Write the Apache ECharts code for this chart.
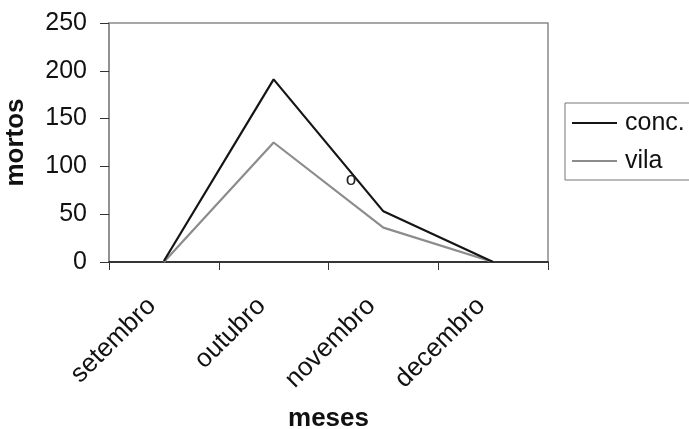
<!DOCTYPE html>
<html>
<head>
<meta charset="utf-8">
<script src="https://cdn.jsdelivr.net/npm/echarts@6/dist/echarts.min.js"></script>
<style>
  html, body { margin: 0; padding: 0; background: #fff; }
  #chart { width: 689px; height: 429px; }
</style>
</head>
<body>
<div id="chart"></div>
<script>
// Deaths per month, two groups
const months = ['setembro', 'outubro', 'novembro', 'decembro'];
const concDeaths = [1, 191, 53, 0];
const vilaDeaths = [0, 125, 36, 0];
const yTicks = { min: 0, max: 250, interval: 50 };

const FONT = '"Liberation Sans", Arial, sans-serif';
const chart = echarts.init(document.getElementById('chart'));

chart.setOption({
  animation: false,
  backgroundColor: '#fff',
  grid: {
    left: 109, right: 141, top: 23, bottom: 167,
    outerBoundsMode: 'none',
    containLabel: false,
    show: true, borderColor: '#8a8a8a', borderWidth: 1.5, backgroundColor: '#fff'
  },
  legend: {
    orient: 'vertical',
    left: 565, top: 103,
    padding: [1, 30, 0, 7],
    itemGap: 0,
    itemWidth: 45, itemHeight: 2,
    icon: 'rect',
    borderColor: '#777', borderWidth: 1,
    backgroundColor: '#fff',
    textStyle: {
      fontFamily: FONT, fontSize: 25, color: '#111', lineHeight: 38,
      padding: [0, 0, 0, 3]
    },
    data: ['conc.', 'vila']
  },
  xAxis: {
    type: 'category',
    data: months,
    boundaryGap: true,
    name: 'meses',
    nameLocation: 'middle',
    nameGap: 144,
    nameTextStyle: { fontFamily: FONT, fontSize: 26, fontWeight: 'bold', color: '#111' },
    axisLine: { lineStyle: { color: '#111', width: 1.5 } },
    axisTick: { show: true, length: 8, lineStyle: { color: '#333', width: 1 } },
    axisLabel: {
      rotate: 45, margin: 28, padding: [0, 17, 0, 0],
      fontFamily: FONT, fontSize: 26, color: '#111'
    },
    splitLine: { show: false }
  },
  yAxis: {
    type: 'value',
    min: yTicks.min, max: yTicks.max, interval: yTicks.interval,
    name: 'mortos',
    nameLocation: 'middle',
    nameRotate: 90,
    nameGap: 80,
    nameTextStyle: { fontFamily: FONT, fontSize: 26, fontWeight: 'bold', color: '#111' },
    axisLine: { show: true, lineStyle: { color: '#8a8a8a', width: 1.5 } },
    axisTick: { show: true, length: 9, lineStyle: { color: '#333', width: 1 } },
    axisLabel: { margin: 22, fontFamily: FONT, fontSize: 25, color: '#111' },
    splitLine: { show: false }
  },
  series: [
    {
      name: 'conc.', type: 'line', data: concDeaths,
      symbol: 'none',
      itemStyle: { color: '#151515' },
      lineStyle: { color: '#151515', width: 2.2 },
      z: 3
    },
    {
      name: 'vila', type: 'line', data: vilaDeaths,
      symbol: 'none',
      itemStyle: { color: '#8c8c8c' },
      lineStyle: { color: '#8c8c8c', width: 2.2 },
      z: 2
    }
  ],
  graphic: [
    {
      type: 'text', x: 351, y: 180, z: 10,
      style: {
        text: 'o', font: '19px ' + FONT, fill: '#222',
        align: 'center', verticalAlign: 'middle'
      }
    }
  ]
});
</script>
</body>
</html>
